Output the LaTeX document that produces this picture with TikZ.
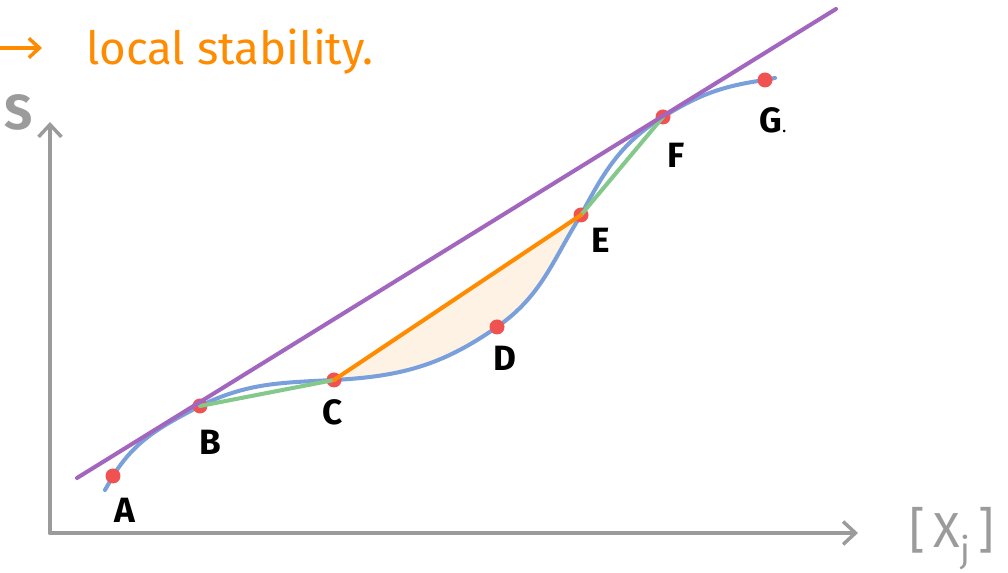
\documentclass[tikz,border=0pt]{standalone}
\usepackage{fontspec}
\setmainfont{Fira Sans}
\usepackage{xcolor}
\usetikzlibrary{arrows.meta, positioning}
\definecolor{curveblue}{RGB}{122,160,220}
\definecolor{tanpurple}{RGB}{162,102,190}
\definecolor{chordgreen}{RGB}{132,200,140}
\definecolor{chordorange}{RGB}{255,140,0}
\definecolor{areafill}{RGB}{253,242,228}
\definecolor{ptred}{RGB}{240,82,82}
\definecolor{axisgray}{RGB}{155,155,155}

\begin{document}
\begin{tikzpicture}[x=0.02cm, y=0.02cm,
  dot/.style={circle, fill=ptred, inner sep=0pt, minimum width=0.27cm, minimum height=0.3cm},
  lbl/.style={font=\fontsize{20}{20}\selectfont\bfseries, text=black},
  axis/.style={-{Straight Barb[length=7pt, width=13pt, line width=2pt]}, line width=2.3pt, color=axisgray, line cap=round},
  seg/.style={line width=2.3pt, color=#1, line cap=round},
  note/.style={font=\fontsize{26}{26}\selectfont, text=chordorange}
]
\useasboundingbox (0,0) rectangle (1008,573);

% points on the curve
\coordinate (cstart) at (105,83);
\coordinate (pA) at (113,97);
\coordinate (pB) at (200,167);
\coordinate (pC) at (334,193);
\coordinate (pD) at (497,246);
\coordinate (pE) at (581,358);
\coordinate (pF) at (663,456);
\coordinate (pG) at (765,493);
\coordinate (cend) at (775,495);

% axes
\coordinate (orig) at (50,40);
\coordinate (ytop) at (50,451);
\coordinate (xend) at (858,40);
\draw[axis] (orig) -- (ytop);
\draw[axis] (orig) -- (xend);
\node[font=\fontsize{28}{28}\selectfont\bfseries, text=axisgray] (ylbl) at (19,461) {S};
\node[font=\fontsize{28}{28}\selectfont, text=axisgray] (xlbl) at (952,34) {{[}\,X\raisebox{-0.3em}{\fontsize{20}{20}\selectfont j}\,{]}};

% shaded region
\fill[areafill] (pC) to[out=3,in=215] (pD) to[out=35,in=238] (pE) -- cycle;

% curve
\draw[seg=curveblue] (cstart) to[out=60,in=240] (pA) to[out=58,in=208] (pB)
  to[out=26,in=183] (pC) to[out=3,in=215] (pD) to[out=35,in=238] (pE)
  to[out=62,in=212] (pF) to[out=32,in=188] (pG) to[out=8,in=185] (cend);

% points
\foreach \p in {A,B,C,D,E,F,G}
  \node[dot] (\p) at (p\p) {};

% chords and tangent
\coordinate (tanlo) at (77,95);
\coordinate (tanhi) at (836,564);
\draw[seg=chordgreen] (B.center) -- (C.center);
\draw[seg=chordgreen] (E.center) -- (F.center);
\draw[seg=chordorange] (C.center) -- (E.center);
\draw[seg=tanpurple] (tanlo) -- (tanhi);

% labels
\node[lbl] (lA) at (125,63) {A};
\node[lbl] (lB) at (210,131) {B};
\node[lbl] (lC) at (333,161) {C};
\node[lbl] (lD) at (505,215) {D};
\node[lbl] (lE) at (601,333) {E};
\node[lbl] (lF) at (676,418) {F};
\node[lbl] (lG) at (773,453) {G{\fontsize{8}{8}\selectfont.}};

% note
\coordinate (nstart) at (0,525);
\coordinate (nend) at (42,525);
\draw[-{Straight Barb[length=6pt, width=11pt, line width=2pt]}, line width=2.3pt, chordorange, line cap=round] (nstart) -- (nend);
\node[note, anchor=base west] (stab) at (80,508) {local stability.};
\end{tikzpicture}
\end{document}
